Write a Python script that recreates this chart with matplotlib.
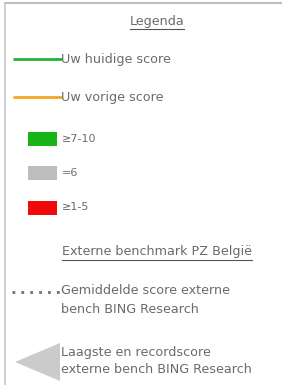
import matplotlib
matplotlib.use("Agg")
from matplotlib import pyplot as plt
from matplotlib.patches import Rectangle, Polygon

# legend content
titles = ["Legenda", "Externe benchmark PZ België"]
line_labels = ["Uw huidige score", "Uw vorige score"]
line_colors = ["#22b33a", "#f5a623"]
box_labels = ["≥7-10", "=6", "≥1-5"]
box_colors = ["#16b416", "#bdbdbd", "#ee0a0a"]
bench_labels = ["Gemiddelde score externe\nbench BING Research",
                "Laagste en recordscore\nexterne bench BING Research"]

text_color = "#6b6b6b"
W, H = 282, 385
fs = 9.2

fig = plt.figure(figsize=(W / 100, H / 100), dpi=100)
ax = fig.add_axes([0, 0, 1, 1])
ax.set_xlim(0, W)
ax.set_ylim(H, 0)
ax.axis("off")
plt.rcParams["font.family"] = ["DejaVu Sans"]

# frame (top and left edges)
ax.plot([5, W], [3, 3], color="#bdbdbd", lw=1.5)
ax.plot([5, 5], [3, H], color="#c8c8c8", lw=1.2)

underlined = []
underlined.append(ax.text(157, 21, titles[0], ha="center", va="center", fontsize=fs, color=text_color))

for i, (lab, col) in enumerate(zip(line_labels, line_colors)):
    y = 59 + i * 38
    ax.plot([13, 62], [y, y], color=col, lw=2, solid_capstyle="butt")
    ax.text(61, y, lab, ha="left", va="center", fontsize=fs, color=text_color)

for i, (lab, col) in enumerate(zip(box_labels, box_colors)):
    y = 138.5 + i * 34.5
    ax.add_patch(Rectangle((28, y - 7), 29, 14, facecolor=col, edgecolor="none"))
    ax.text(62, y, lab, ha="left", va="center", fontsize=8, color=text_color)

underlined.append(ax.text(157, 252, titles[1], ha="center", va="center", fontsize=fs, color=text_color))

# dotted line for average benchmark
ax.plot([12, 60], [292, 292], color="#707070", lw=2, linestyle=(0, (1, 2.2)))
ax.text(61, 300, bench_labels[0], ha="left", va="center", fontsize=fs, color=text_color, linespacing=1.55)

# grey arrow for min / record benchmark
ax.add_patch(Polygon([[15, 362], [60, 343], [60, 381]], closed=True, facecolor="#cbcbcb", edgecolor="none"))
ax.text(61, 361, bench_labels[1], ha="left", va="center", fontsize=fs, color=text_color, linespacing=1.45)

# underline titles
fig.canvas.draw()
r = fig.canvas.get_renderer()
inv = ax.transData.inverted()
for t in underlined:
    bb = t.get_window_extent(renderer=r)
    (x0, y0), (x1, y1) = inv.transform([[bb.x0, bb.y0], [bb.x1, bb.y1]])
    ax.plot([x0, x1], [y0 + 1, y0 + 1], color="#555555", lw=0.8)

fig.savefig("out.png", dpi=100)
